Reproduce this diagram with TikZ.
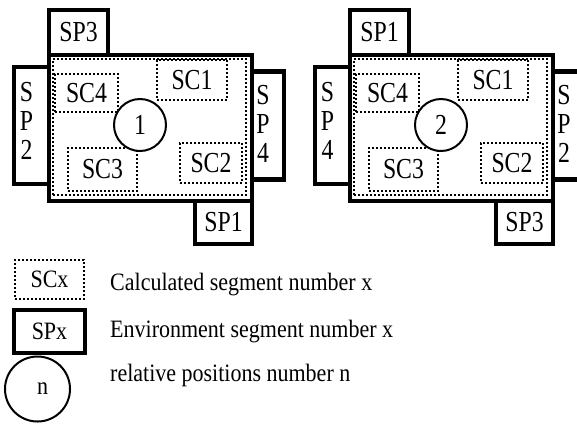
\documentclass[tikz,border=0pt]{standalone}
\usepackage{fontspec}
\setmainfont{Liberation Serif}
\newfontfamily\boxfont[FakeStretch=0.82]{Liberation Serif}
\newfontfamily\legfont[FakeStretch=0.88]{Liberation Serif}
\usepackage{tikz}
\usetikzlibrary{positioning, shapes}
\tikzstyle{envseg} = [draw, rectangle, line width=4.5bp, inner sep=0pt, outer sep=0pt, align=center]
\tikzstyle{sideword} = [align=center, inner sep=0pt, xshift=-5bp]
\tikzstyle{calcseg} = [draw, rectangle, line width=2bp, dash pattern=on 2bp off 2bp, inner sep=0pt, outer sep=0pt]
\tikzstyle{relpos} = [draw, circle, line width=2bp, inner sep=0pt, fill=white]
\tikzstyle{legtext} = [anchor=base west, inner sep=0pt]

\begin{document}
\begin{tikzpicture}[x=1bp, y=-1bp, font=\boxfont\fontsize{29bp}{29bp}\selectfont]
    \useasboundingbox (0,0) rectangle (577,423);

    % First position
    \node [envseg, minimum width=203bp, minimum height=146bp] (main1) at (150.5,128) {};
    \node [calcseg, minimum width=193bp, minimum height=136bp] (inner1) at (149.5,127) {};
    \node [envseg, minimum width=59bp, minimum height=45bp, anchor=south west] (top1) at (main1.north west) {SP3};
    \node [envseg, minimum width=35bp, minimum height=117bp, anchor=north east,
        label={[sideword, yshift=5bp]center:S\\P\\2}] (left1) at ([yshift=-12bp]main1.north west) {};
    \node [envseg, minimum width=32bp, minimum height=108bp, anchor=north west,
        label={[sideword, yshift=2bp]center:S\\P\\4}] (right1) at ([yshift=-16.5bp]main1.north east) {};
    \node [envseg, minimum width=57bp, minimum height=43bp, anchor=north east] (bottom1) at (main1.south east) {SP1};
    \node [calcseg, minimum width=63bp, minimum height=38bp] (sc4a) at (86.5,93) {SC4};
    \node [calcseg, minimum width=70bp, minimum height=40bp] (sc1a) at (192,80) {SC1};
    \node [calcseg, minimum width=69bp, minimum height=43bp] (sc3a) at (102.5,169.5) {SC3};
    \node [calcseg, minimum width=62bp, minimum height=40bp] (sc2a) at (211,163) {SC2};
    \node [relpos, minimum size=52bp] (pos1) at (140,125) {1};

    % Second position
    \node [envseg, minimum width=203bp, minimum height=146bp] (main2) at (451.5,128) {};
    \node [calcseg, minimum width=193bp, minimum height=136bp] (inner2) at (450.5,127) {};
    \node [envseg, minimum width=59bp, minimum height=45bp, anchor=south west] (top2) at (main2.north west) {SP1};
    \node [envseg, minimum width=35bp, minimum height=117bp, anchor=north east,
        label={[sideword, yshift=5bp]center:S\\P\\4}] (left2) at ([yshift=-12bp]main2.north west) {};
    \node [envseg, minimum width=32bp, minimum height=108bp, anchor=north west,
        label={[sideword, yshift=2bp]center:S\\P\\2}] (right2) at ([yshift=-16.5bp]main2.north east) {};
    \node [envseg, minimum width=57bp, minimum height=43bp, anchor=north east] (bottom2) at (main2.south east) {SP3};
    \node [calcseg, minimum width=63bp, minimum height=38bp] (sc4b) at (387.5,93) {SC4};
    \node [calcseg, minimum width=70bp, minimum height=40bp] (sc1b) at (493,80) {SC1};
    \node [calcseg, minimum width=69bp, minimum height=43bp] (sc3b) at (403.5,169.5) {SC3};
    \node [calcseg, minimum width=62bp, minimum height=40bp] (sc2b) at (512,163) {SC2};
    \node [relpos, minimum size=52bp] (pos2) at (441,125) {2};

    % Legend
    \begin{scope}[font=\legfont\fontsize{25bp}{29bp}\selectfont]
    \node [calcseg, minimum width=69bp, minimum height=39bp] (legsc) at (49.5,279.5) {SCx};
    \node [envseg, minimum width=71bp, minimum height=43bp] (legsp) at (49.5,331.5) {SPx};
    \node [relpos, minimum size=65bp] (legpos) at (37.5,389) {\hspace*{10bp}n};
    \node [legtext] (legsctext) at (110,290) {Calculated segment number x};
    \node [legtext] (legsptext) at (110,337) {Environment segment number x};
    \node [legtext] (legpostext) at (110,381) {relative positions number n};
    \end{scope}
\end{tikzpicture}
\end{document}
